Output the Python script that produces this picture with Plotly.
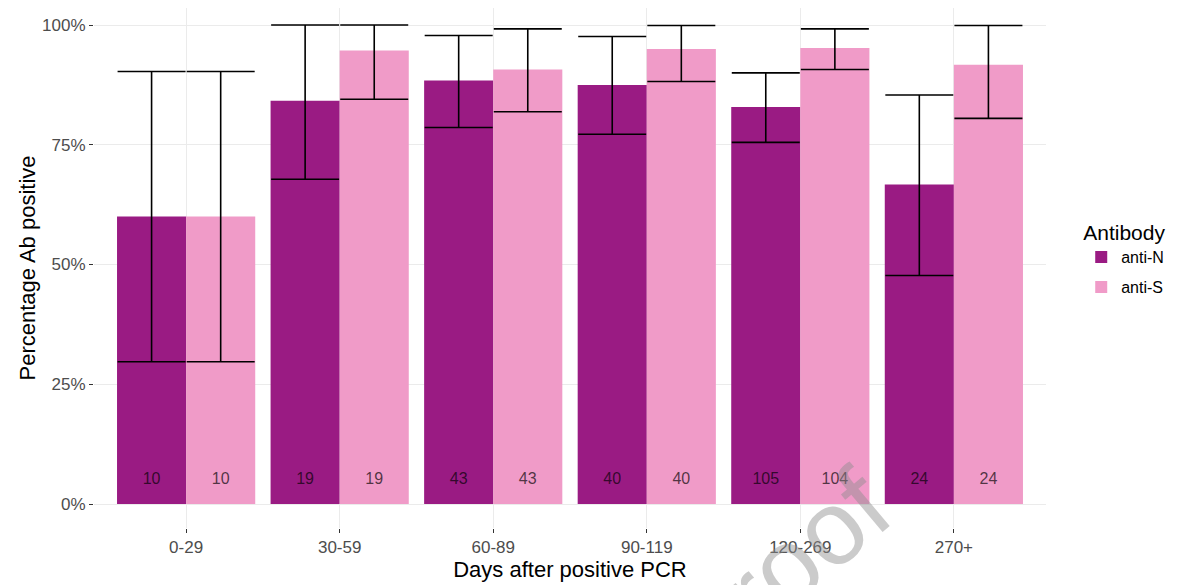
import numpy as np
import plotly.graph_objects as go

# ---- data ----
categories = ["0-29", "30-59", "60-89", "90-119", "120-269", "270+"]
antiN_pct = [60.0, 84.2, 88.4, 87.5, 82.9, 66.7]
antiN_lo = [29.7, 67.8, 78.6, 77.2, 75.5, 47.7]
antiN_hi = [90.3, 100.0, 97.8, 97.6, 90.0, 85.4]
antiS_pct = [60.0, 94.7, 90.7, 95.0, 95.2, 91.7]
antiS_lo = [29.7, 84.5, 81.9, 88.2, 90.7, 80.5]
antiS_hi = [90.3, 100.0, 99.2, 99.9, 99.2, 99.9]
antiN_n = [10, 19, 43, 40, 105, 24]
antiS_n = [10, 19, 43, 40, 104, 24]
y_ticks = [0, 25, 50, 75, 100]
y_ticklabels = ["0%", "25%", "50%", "75%", "100%"]
label_y = 5

# ---- styling ----
COL_N = "#9A1B83"
COL_S = "#F09BC8"
FONT = "Liberation Sans, Arial, sans-serif"
dodge = 0.225
bar_w = 0.45

pos = np.arange(1, len(categories) + 1)
xN = pos - dodge
xS = pos + dodge

def errs(pct, lo, hi):
    pct, lo, hi = map(np.array, (pct, lo, hi))
    return hi - pct, pct - lo

eN_up, eN_dn = errs(antiN_pct, antiN_lo, antiN_hi)
eS_up, eS_dn = errs(antiS_pct, antiS_lo, antiS_hi)

fig = go.Figure()
fig.add_trace(go.Bar(
    x=xN, y=antiN_pct, width=bar_w, name="anti-N", marker=dict(color=COL_N, line=dict(width=0)),
    legendgroup="N",
    error_y=dict(type="data", symmetric=False, array=eN_up, arrayminus=eN_dn,
                 color="black", thickness=1.6, width=34),
))
fig.add_trace(go.Bar(
    x=xS, y=antiS_pct, width=bar_w, name="anti-S", marker=dict(color=COL_S, line=dict(width=0)),
    legendgroup="S",
    error_y=dict(type="data", symmetric=False, array=eS_up, arrayminus=eS_dn,
                 color="black", thickness=1.6, width=34),
))
fig.add_trace(go.Scatter(
    x=xN, y=[label_y] * len(xN), mode="text", text=[str(v) for v in antiN_n],
    textfont=dict(size=16, color="rgba(0,0,0,0.68)", family=FONT),
    showlegend=False, hoverinfo="skip"))
fig.add_trace(go.Scatter(
    x=xS, y=[label_y] * len(xS), mode="text", text=[str(v) for v in antiS_n],
    textfont=dict(size=16, color="rgba(0,0,0,0.68)", family=FONT),
    showlegend=False, hoverinfo="skip"))

fig.update_layout(
    width=1179, height=577,
    margin=dict(l=86, r=141, t=0, b=57),
    paper_bgcolor="white", plot_bgcolor="white",
    barmode="overlay",
    font=dict(family=FONT, color="black"),
    showlegend=True,
    legend=dict(
        x=1.037, xanchor="left", y=0.606, yanchor="top",
        title=dict(text="Antibody", font=dict(size=21, color="black")),
        font=dict(size=16, color="black"),
        tracegroupgap=6,
        bgcolor="rgba(0,0,0,0)",
    ),
    xaxis=dict(
        range=[0.4, 6.6], tickmode="array", tickvals=pos, ticktext=categories,
        showgrid=True, gridcolor="#EBEBEB", gridwidth=1, zeroline=False, showline=False,
        ticks="outside", ticklen=4, tickcolor="#333333", tickwidth=1,
        tickfont=dict(size=17, color="#4D4D4D"),
        title=dict(text="Days after positive PCR", font=dict(size=22, color="black"), standoff=2),
        automargin=False,
    ),
    yaxis=dict(
        range=[-5, 103.55], tickmode="array", tickvals=y_ticks, ticktext=y_ticklabels,
        showgrid=True, gridcolor="#EBEBEB", gridwidth=1, zeroline=False, showline=False,
        ticks="outside", ticklen=4, tickcolor="#333333", tickwidth=1,
        tickfont=dict(size=17, color="#4D4D4D"),
        title=dict(text="Percentage Ab positive", font=dict(size=22, color="black"), standoff=0),
        automargin=False,
    ),
    annotations=[dict(
        text="Journal Pre-proof", xref="paper", yref="paper", x=0.494, y=-0.43,
        xanchor="center", yanchor="middle", textangle=-40, showarrow=False,
        font=dict(size=105, color="rgba(140,140,140,0.45)", family=FONT),
    )],
)

fig.write_html("out.html")
